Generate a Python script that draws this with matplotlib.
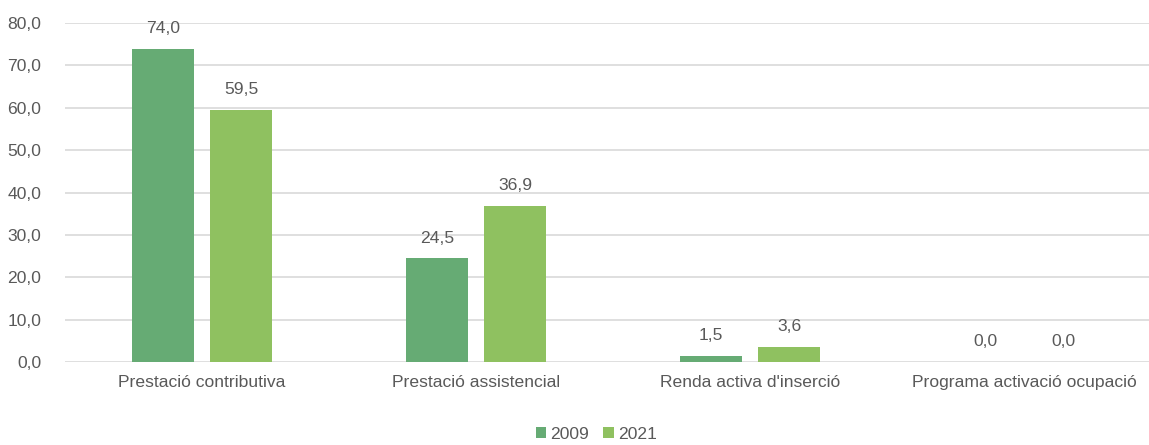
import numpy as np
import matplotlib.pyplot as plt

categories = ['Prestació contributiva', 'Prestació assistencial',
              "Renda activa d'inserció", 'Programa activació ocupació']
years = ['2009', '2021']
vals_2009 = [74.0, 24.5, 1.5, 0.0]
vals_2021 = [59.5, 36.9, 3.6, 0.0]
yticks = [0, 10, 20, 30, 40, 50, 60, 70, 80]

plt.rcParams['font.family'] = ['Liberation Sans', 'DejaVu Sans']
txt = '#595959'
fs = 12.6

fig = plt.figure(figsize=(11.49, 4.45), dpi=100)
ax = fig.add_axes([0.0566, 0.1865, 0.954, 0.7615])

x = np.arange(len(categories))
w = 0.225
off = 0.142
colors = ['#66ab74', '#8fc160']
for vals, dx, c, lab in zip([vals_2009, vals_2021], [-off, off], colors, years):
    bars = ax.bar(x + dx, vals, w, color=c, label=lab, zorder=2)
    for b, v in zip(bars, vals):
        ax.text(b.get_x() + b.get_width() / 2, v + 3.0, f'{v:.1f}'.replace('.', ','),
                ha='center', va='bottom', fontsize=fs, color=txt)

ax.set_xlim(-0.5, 3.5)
ax.set_ylim(0, 80)
ax.set_yticks(yticks)
ax.set_yticklabels([f'{t:.1f}'.replace('.', ',') for t in yticks])
ax.set_xticks(x)
ax.set_xticklabels(categories)
ax.tick_params(axis='both', length=0, labelsize=fs, colors=txt)
ax.tick_params(axis='x', pad=9)
ax.tick_params(axis='y', pad=17)
ax.grid(axis='y', color='#d9d9d9', linewidth=1.2, zorder=0)
ax.set_axisbelow(True)
for s in ax.spines.values():
    s.set_visible(False)

leg = fig.legend(loc='lower center', bbox_to_anchor=(0.519, -0.028), ncol=2, frameon=False,
                 fontsize=fs, handlelength=0.6, handleheight=0.6, handletextpad=0.25,
                 columnspacing=0.8)
for t in leg.get_texts():
    t.set_color(txt)

fig.savefig('out.png', dpi=100)
